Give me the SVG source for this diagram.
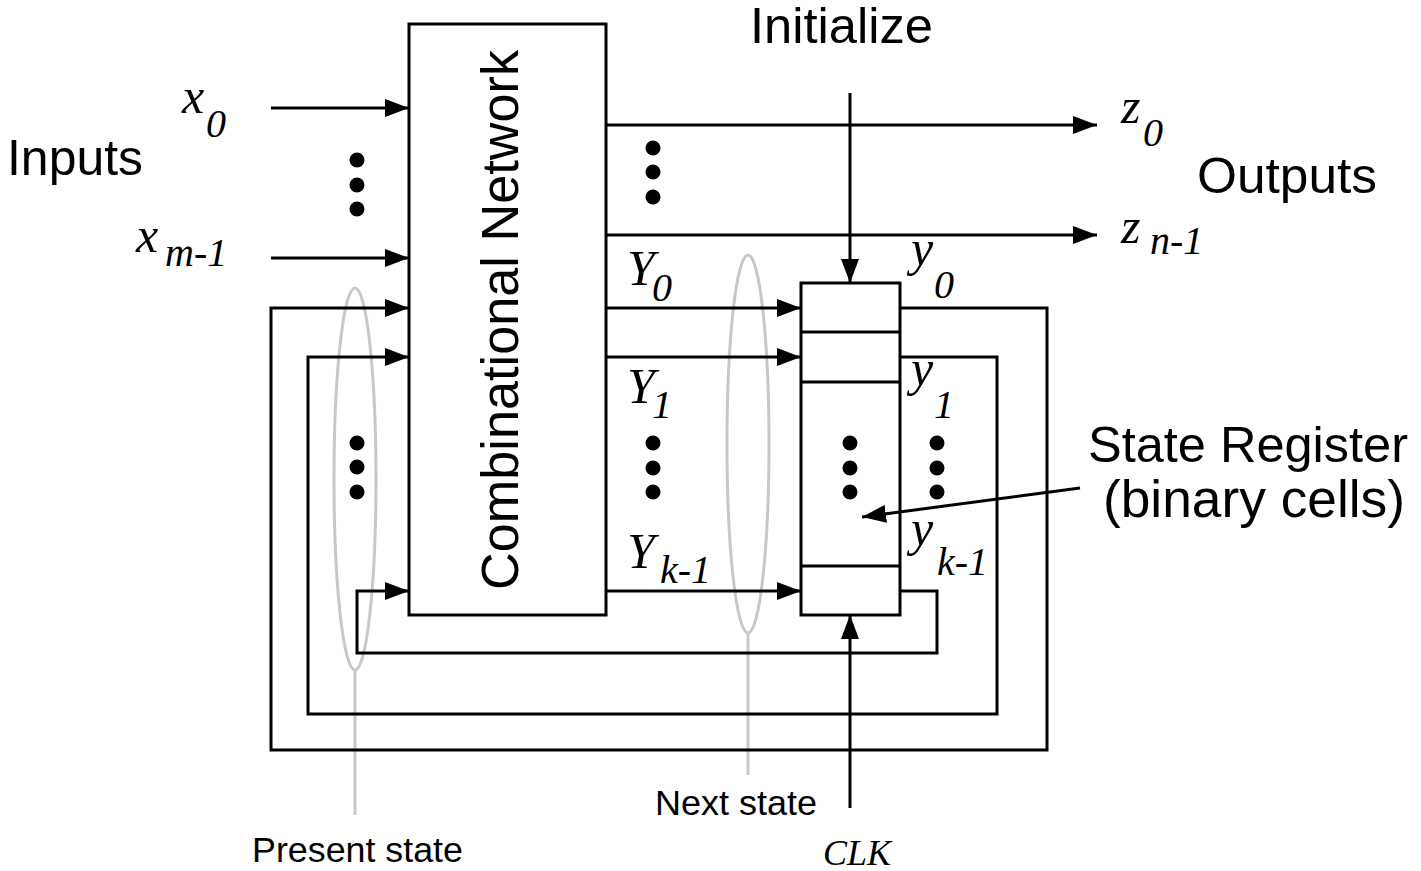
<svg xmlns="http://www.w3.org/2000/svg" width="1421" height="871" viewBox="0 0 1421 871">
<style>
.ln{fill:none;stroke:#000;stroke-width:3}
.gr{fill:none;stroke:#c8c8c8;stroke-width:3}
.sans{font-family:"Liberation Sans",Arial,sans-serif;fill:#000}
.it{font-family:"Liberation Serif","Times New Roman",serif;font-style:italic;fill:#000}
.m{font-size:50px}
.s{font-size:40px}
.dot{fill:#000}
</style>
<defs>
<marker id="ah" markerUnits="userSpaceOnUse" markerWidth="24" markerHeight="18" refX="24" refY="9" orient="auto">
<path d="M0,0 L24,9 L0,18 z" fill="#000"/>
</marker>
</defs>
<rect width="1421" height="871" fill="#fff"/>

<g id="present-state">
<ellipse class="gr" cx="355" cy="479" rx="21" ry="191"/>
<line class="gr" x1="355" y1="670" x2="355" y2="815"/>
<text class="sans" x="252" y="862" font-size="35" textLength="211" lengthAdjust="spacingAndGlyphs">Present state</text>
</g>
<g id="next-state">
<ellipse class="gr" cx="748" cy="444" rx="21" ry="189"/>
<line class="gr" x1="748" y1="633" x2="748" y2="775"/>
<text class="sans" x="655" y="815" font-size="35" textLength="162" lengthAdjust="spacingAndGlyphs">Next state</text>
</g>

<g id="combinational-network">
<rect class="ln" x="409" y="24" width="197" height="591" style="fill:#fff"/>
<text class="sans" transform="translate(518,320) rotate(-90)" text-anchor="middle" font-size="51" textLength="540" lengthAdjust="spacingAndGlyphs">Combinational Network</text>
</g>

<g id="state-register">
<rect class="ln" x="801" y="283" width="99" height="332" style="fill:#fff"/>
<line class="ln" x1="801" y1="332" x2="900" y2="332"/>
<line class="ln" x1="801" y1="382" x2="900" y2="382"/>
<line class="ln" x1="801" y1="566" x2="900" y2="566"/>
<circle class="dot" cx="850" cy="443" r="7.5"/>
<circle class="dot" cx="850" cy="468" r="7.5"/>
<circle class="dot" cx="850" cy="492" r="7.5"/>
</g>

<g id="connectors">
<path class="ln" d="M271,108 H409" marker-end="url(#ah)"/>
<path class="ln" d="M271,258 H409" marker-end="url(#ah)"/>
<path class="ln" d="M606,125 H1097" marker-end="url(#ah)"/>
<path class="ln" d="M606,235 H1097" marker-end="url(#ah)"/>
<path class="ln" d="M850,93 V283" marker-end="url(#ah)"/>
<path class="ln" d="M850,808 V615" marker-end="url(#ah)"/>
<path class="ln" d="M606,308 H801" marker-end="url(#ah)"/>
<path class="ln" d="M606,357 H801" marker-end="url(#ah)"/>
<path class="ln" d="M606,591 H801" marker-end="url(#ah)"/>
<path class="ln" d="M900,308 H1047 V750 H271 V308 H409" marker-end="url(#ah)"/>
<path class="ln" d="M900,357 H997 V714 H308 V357 H409" marker-end="url(#ah)"/>
<path class="ln" d="M900,591 H937 V653 H357 V591 H409" marker-end="url(#ah)"/>
<path class="ln" d="M1080,488 L862,517" marker-end="url(#ah)"/>
</g>

<g id="dots">
<circle class="dot" cx="357" cy="160" r="7.5"/>
<circle class="dot" cx="357" cy="185" r="7.5"/>
<circle class="dot" cx="357" cy="209" r="7.5"/>
<circle class="dot" cx="653" cy="148" r="7.5"/>
<circle class="dot" cx="653" cy="172" r="7.5"/>
<circle class="dot" cx="653" cy="197" r="7.5"/>
<circle class="dot" cx="357" cy="443" r="7.5"/>
<circle class="dot" cx="357" cy="467" r="7.5"/>
<circle class="dot" cx="357" cy="492" r="7.5"/>
<circle class="dot" cx="653" cy="443" r="7.5"/>
<circle class="dot" cx="653" cy="468" r="7.5"/>
<circle class="dot" cx="653" cy="492" r="7.5"/>
<circle class="dot" cx="937" cy="443" r="7.5"/>
<circle class="dot" cx="937" cy="468" r="7.5"/>
<circle class="dot" cx="937" cy="492" r="7.5"/>
</g>

<g id="labels">
<text class="sans" x="750" y="43" font-size="50" textLength="183" lengthAdjust="spacingAndGlyphs">Initialize</text>
<text class="sans" x="7" y="175" font-size="50" textLength="136" lengthAdjust="spacingAndGlyphs">Inputs</text>
<text class="sans" x="1197" y="193" font-size="50" textLength="180" lengthAdjust="spacingAndGlyphs">Outputs</text>
<text class="sans" x="1088" y="462" font-size="50" textLength="320" lengthAdjust="spacingAndGlyphs">State Register</text>
<text class="sans" x="1103" y="517" font-size="51" textLength="302" lengthAdjust="spacingAndGlyphs">(binary cells)</text>
<text class="it" x="823" y="865" font-size="36">CLK</text>

<text class="it m" x="182" y="113">x</text><text class="it s" x="206" y="137">0</text>
<text class="it m" x="136" y="252">x</text><text class="it s" x="165" y="266">m-1</text>
<text class="it m" x="627" y="285">Y</text><text class="it s" x="652" y="301">0</text>
<text class="it m" x="627" y="403">Y</text><text class="it s" x="652" y="418">1</text>
<text class="it m" x="627" y="568">Y</text><text class="it s" x="660" y="583">k-1</text>
<text class="it m" x="911" y="265">y</text><text class="it s" x="934" y="298">0</text>
<text class="it m" x="911" y="385">y</text><text class="it s" x="934" y="418">1</text>
<text class="it m" x="911" y="545">y</text><text class="it s" x="937" y="575">k-1</text>
<text class="it m" x="1121" y="123">z</text><text class="it s" x="1143" y="146">0</text>
<text class="it m" x="1121" y="243">z</text><text class="it s" x="1150" y="254">n-1</text>
</g>
</svg>
